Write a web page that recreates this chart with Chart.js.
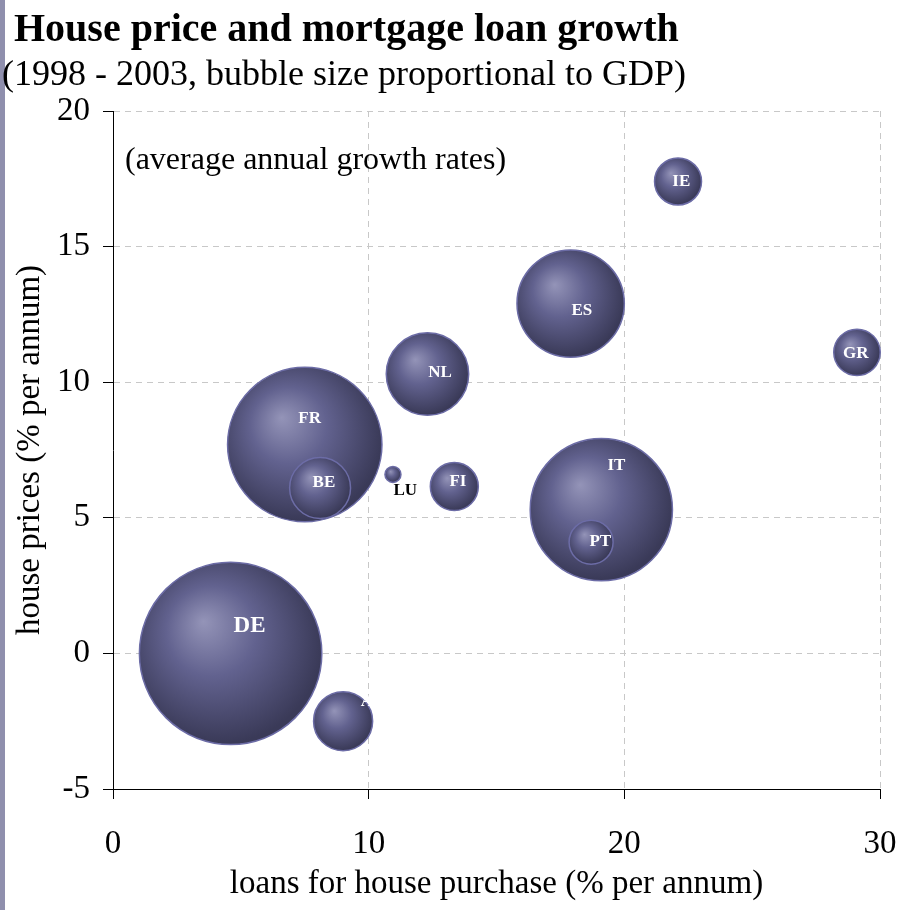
<!DOCTYPE html>
<html>
<head>
<meta charset="utf-8">
<title>House price and mortgage loan growth</title>
<script src="https://cdn.jsdelivr.net/npm/chart.js@4/dist/chart.umd.min.js"></script>
<style>
  html, body { margin: 0; padding: 0; background: #fff; }
  canvas { display: block; }
</style>
</head>
<body>
<canvas id="bubbleChart" width="903" height="910"></canvas>
<script>
// Countries, listed largest economy first so the small bubbles sit on top
const countries = ['DE', 'FR', 'IT', 'ES', 'NL', 'BE', 'AT', 'FI', 'IE', 'GR', 'PT', 'LU'];
// average annual growth of loans for house purchase, % per annum
const loanGrowth = [4.6, 7.5, 19.1, 17.9, 12.3, 8.1, 9.0, 13.35, 22.1, 29.1, 18.7, 10.95];
// average annual growth of house prices, % per annum
const priceGrowth = [0.0, 7.7, 5.3, 12.9, 10.3, 6.1, -2.5, 6.15, 17.4, 11.1, 4.1, 6.6];
// GDP, EUR bn (bubble area)
const gdp = [2080, 1490, 1265, 720, 425, 232, 218, 144, 138, 135, 121, 16];
// where each country code is written
const labelX = [5.34, 7.69, 19.69, 18.34, 12.79, 8.25, 10.13, 13.49, 22.23, 29.05, 19.06, 11.43];
const labelY = [1.0, 8.64, 6.93, 12.65, 10.35, 6.29, -1.79, 6.32, 17.39, 11.04, 4.13, 5.99];

const xTicks = [0, 10, 20, 30];
const yTicks = [-5, 0, 5, 10, 15, 20];

const RADIUS_PER_SQRT_GDP = 2;
const SERIF = '"Liberation Serif", "Times New Roman", serif';

const points = countries.map((c, i) => ({
  x: loanGrowth[i],
  y: priceGrowth[i],
  r: RADIUS_PER_SQRT_GDP * Math.sqrt(gdp[i])
}));

// shaded sphere look: light spot up and to the left, dark rim
function bubbleFill(context) {
  const chart = context.chart;
  const p = context.raw;
  if (!p || !chart.chartArea) return '#5a5a8a';
  const cx = chart.scales.x.getPixelForValue(p.x);
  const cy = chart.scales.y.getPixelForValue(p.y);
  const r = p.r;
  const g = chart.ctx.createRadialGradient(cx - r * 0.3, cy - r * 0.35, 0, cx - r * 0.1, cy - r * 0.12, r * 1.1);
  g.addColorStop(0, '#9494b8');
  g.addColorStop(0.45, '#62628f');
  g.addColorStop(1, '#3a3a58');
  return g;
}

const headerPlugin = {
  id: 'header',
  beforeDraw(chart) {
    const ctx = chart.ctx;
    ctx.save();
    ctx.fillStyle = '#8f8fad';
    ctx.fillRect(0, 0, 5, chart.height);
    ctx.fillStyle = '#000';
    ctx.textBaseline = 'alphabetic';
    ctx.textAlign = 'left';
    ctx.font = 'bold 40px ' + SERIF;
    ctx.fillText('House price and mortgage loan growth', 14, 41);
    ctx.font = '36px ' + SERIF;
    ctx.fillText('(1998 - 2003, bubble size proportional to GDP)', 2, 85);
    ctx.restore();
  },
  afterDraw(chart) {
    const ctx = chart.ctx;
    const area = chart.chartArea;
    ctx.save();
    ctx.fillStyle = '#000';
    ctx.font = '32px ' + SERIF;
    ctx.textBaseline = 'middle';
    ctx.fillText('(average annual growth rates)', area.left + 12, area.top + 50);
    ctx.restore();
  }
};

const labelPlugin = {
  id: 'countryLabels',
  afterDatasetsDraw(chart) {
    const ctx = chart.ctx;
    const xs = chart.scales.x, ys = chart.scales.y;
    ctx.save();
    ctx.textAlign = 'center';
    ctx.textBaseline = 'middle';
    countries.forEach((c, i) => {
      ctx.font = 'bold ' + (c === 'DE' ? 23 : 17) + 'px ' + SERIF;
      ctx.fillStyle = c === 'LU' ? '#000' : '#fff';
      ctx.fillText(c, xs.getPixelForValue(labelX[i]), ys.getPixelForValue(labelY[i]));
    });
    ctx.restore();
  }
};

new Chart(document.getElementById('bubbleChart'), {
  type: 'bubble',
  data: {
    datasets: [{
      data: points,
      backgroundColor: bubbleFill,
      borderColor: '#6c6ca6',
      borderWidth: 1.5,
      hoverRadius: 0,
      clip: false
    }]
  },
  options: {
    responsive: false,
    animation: false,
    events: [],
    layout: { autoPadding: false, padding: { top: 111, right: 23, bottom: 0, left: 0 } },
    plugins: {
      legend: { display: false },
      tooltip: { enabled: false }
    },
    scales: {
      x: {
        type: 'linear',
        min: 0,
        max: 30,
        afterBuildTicks: s => { s.ticks = xTicks.map(v => ({ value: v })); },
        afterFit: s => { s.height = 121; s.paddingLeft = 0; s.paddingRight = 0; },
        grid: { color: '#c8c8c8', tickColor: '#000', tickLength: 10, tickBorderDash: [] },
        border: { color: '#000', width: 1, dash: [6, 5] },
        ticks: { color: '#000', font: { family: SERIF, size: 33 }, padding: 26, maxRotation: 0 },
        title: {
          display: true,
          text: 'loans for house purchase (% per annum)',
          color: '#000',
          font: { family: SERIF, size: 33 },
          padding: { bottom: 6 }
        }
      },
      y: {
        type: 'linear',
        min: -5,
        max: 20,
        afterBuildTicks: s => { s.ticks = yTicks.map(v => ({ value: v })); },
        afterFit: s => { s.width = 113; s.paddingTop = 0; s.paddingBottom = 0; },
        grid: { color: '#c8c8c8', tickColor: '#000', tickLength: 10, tickBorderDash: [] },
        border: { color: '#000', width: 1, dash: [6, 5] },
        ticks: { color: '#000', font: { family: SERIF, size: 33 }, padding: 13 },
        title: {
          display: true,
          text: 'house prices (% per annum)',
          color: '#000',
          font: { family: SERIF, size: 33 },
          padding: { top: 11 }
        }
      }
    }
  },
  plugins: [headerPlugin, labelPlugin]
});
</script>
</body>
</html>
